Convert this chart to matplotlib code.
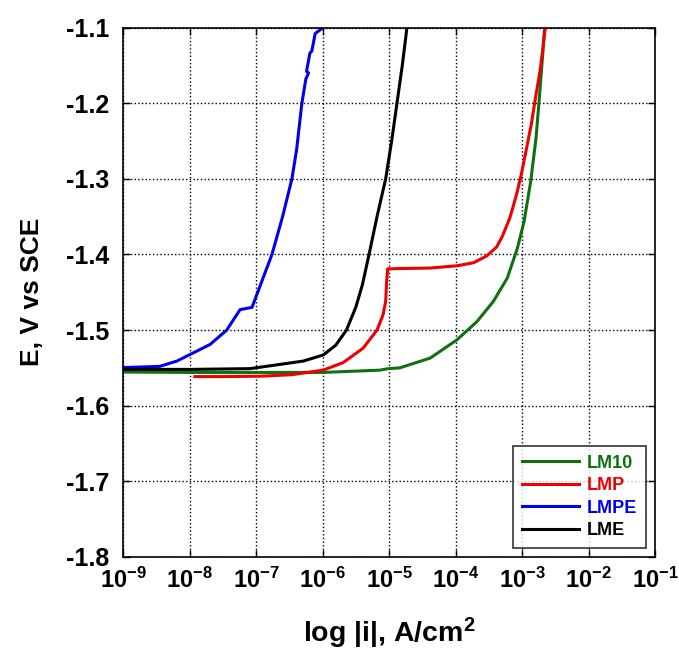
import numpy as np
import matplotlib
matplotlib.use("Agg")
import matplotlib.pyplot as plt
from matplotlib.ticker import FixedLocator, FuncFormatter

plt.rcParams['font.family'] = ['Liberation Sans', 'DejaVu Sans']
plt.rcParams['mathtext.fontset'] = 'custom'
plt.rcParams['mathtext.rm'] = 'Liberation Sans:bold'
plt.rcParams['mathtext.bf'] = 'Liberation Sans:bold'
plt.rcParams['mathtext.default'] = 'bf'

# log10(i) and E (V vs SCE) for each sample
lm10_logi = [-9.0, -8.0, -7.0, -6.0, -5.14, -5.01, -4.84, -4.38, -3.98, -3.68, -3.43,
             -3.22, -3.07, -2.97, -2.87, -2.79, -2.74, -2.69, -2.66]
lm10_E = [-1.5555, -1.556, -1.556, -1.556, -1.553, -1.551, -1.550, -1.537, -1.513, -1.489, -1.462,
          -1.431, -1.392, -1.357, -1.304, -1.247, -1.194, -1.137, -1.100]

lmp_logi = [-7.92, -7.5, -6.94, -6.46, -5.99, -5.69, -5.39, -5.18, -5.09, -5.05, -5.035,
            -5.02, -4.38, -3.98, -3.73, -3.53, -3.38, -3.29, -3.18, -3.08, -3.01, -2.93,
            -2.86, -2.79, -2.73, -2.69, -2.65]
lmp_E = [-1.5615, -1.5615, -1.561, -1.559, -1.553, -1.543, -1.524, -1.500, -1.480, -1.462, -1.435,
         -1.419, -1.418, -1.415, -1.411, -1.402, -1.390, -1.375, -1.351, -1.320, -1.294, -1.259,
         -1.228, -1.189, -1.158, -1.131, -1.100]

lmpe_logi = [-9.0, -8.45, -8.19, -7.94, -7.69, -7.44, -7.24, -7.06, -6.94, -6.76, -6.60,
             -6.46, -6.39, -6.31, -6.25, -6.21, -6.24, -6.19, -6.16, -6.11, -5.99]
lmpe_E = [-1.5496, -1.548, -1.541, -1.530, -1.519, -1.500, -1.473, -1.470, -1.442, -1.400, -1.350,
          -1.300, -1.262, -1.200, -1.168, -1.160, -1.158, -1.134, -1.131, -1.108, -1.100]

lme_logi = [-9.0, -8.0, -7.09, -6.69, -6.29, -5.99, -5.80, -5.64, -5.50, -5.40, -5.30, -5.18,
            -5.05, -4.96, -4.88, -4.80, -4.73]
lme_E = [-1.552, -1.552, -1.551, -1.546, -1.541, -1.533, -1.520, -1.500, -1.470, -1.440, -1.400,
         -1.350, -1.300, -1.250, -1.200, -1.150, -1.100]

labels = ['LM10', 'LMP', 'LMPE', 'LME']
colors = ['#107010', '#ee0000', '#0000ee', '#000000']
xticks_exp = [-9, -8, -7, -6, -5, -4, -3, -2, -1]
yticks = [-1.8, -1.7, -1.6, -1.5, -1.4, -1.3, -1.2, -1.1]

fig = plt.figure(figsize=(6.79, 6.53), dpi=100)
ax = fig.add_axes([123/679, 1-557/653, (655-123)/679, (557-27.5)/653])

series = [(lm10_logi, lm10_E), (lmp_logi, lmp_E), (lmpe_logi, lmpe_E), (lme_logi, lme_E)]
for (lx, ey), lab, c in zip(series, labels, colors):
    ax.plot(10.0**np.array(lx), ey, color=c, lw=2.2, label=lab)

ax.set_xscale('log')
ax.set_xlim(1e-9, 1e-1)
ax.set_ylim(-1.8, -1.1)
ax.xaxis.set_major_locator(FixedLocator([10.0**e for e in xticks_exp]))
ax.xaxis.set_minor_locator(FixedLocator([]))
ax.xaxis.set_major_formatter(FuncFormatter(lambda v, p: r'$10^{%d}$' % int(round(np.log10(v)))))
ax.set_yticks(yticks)
ax.set_yticklabels(['%.1f' % v for v in yticks])

ax.grid(True, color='black', linestyle=':', linewidth=1.0)
ax.tick_params(direction='in', top=True, right=True, length=5, width=1)
ax.tick_params(axis='x', labelsize=17, pad=8)
ax.tick_params(axis='y', labelsize=18, pad=10)
for t in ax.get_yticklabels():
    t.set_fontweight('bold')
for sp in ax.spines.values():
    sp.set_linewidth(1.2)

ax.set_xlabel(r'log |i|, A/cm$^{2}$', fontsize=20.5, fontweight='bold', labelpad=16)
ax.set_ylabel('E, V vs SCE', fontsize=19, fontweight='bold', labelpad=16)

leg = ax.legend(loc='lower right', frameon=True, fancybox=False,
                edgecolor='black', handlelength=3.2, borderpad=0.5, labelspacing=0.3,
                handletextpad=0.4, borderaxespad=0.5, prop={'weight': 'bold', 'size': 13})
leg.get_frame().set_linewidth(1.2)
for txt, c in zip(leg.get_texts(), colors):
    txt.set_color(c)

fig.savefig('out.png', dpi=100)
